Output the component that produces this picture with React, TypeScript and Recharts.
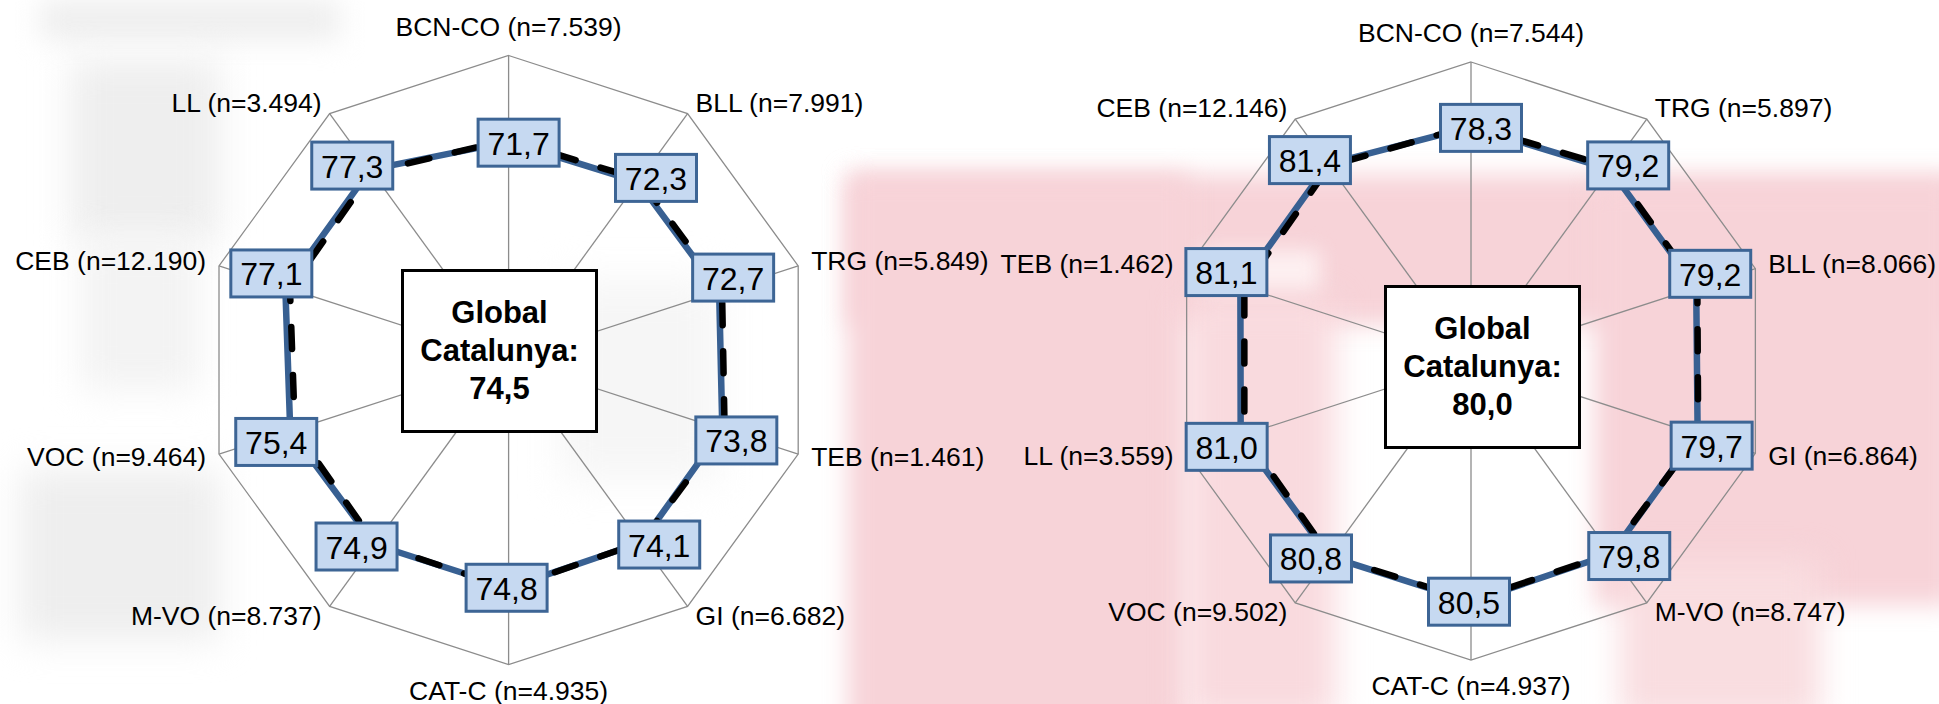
import { RadarChart, Radar, PolarGrid, PolarAngleAxis, PolarRadiusAxis } from "recharts"

// left panel
const leftAxes = [
  "BCN-CO (n=7.539)", "BLL (n=7.991)", "TRG (n=5.849)", "TEB (n=1.461)", "GI (n=6.682)",
  "CAT-C (n=4.935)", "M-VO (n=8.737)", "VOC (n=9.464)", "CEB (n=12.190)", "LL (n=3.494)",
]
const leftValues = [71.7, 72.3, 72.7, 73.8, 74.1, 74.8, 74.9, 75.4, 77.1, 77.3]
const leftDashed = [72.3, 73.3, 73.7, 74.6, 74.0, 75.0, 74.6, 73.8, 75.5, 76.4]
const leftGlobal = "74,5"

// right panel
const rightAxes = [
  "BCN-CO (n=7.544)", "TRG (n=5.897)", "BLL (n=8.066)", "GI (n=6.864)", "M-VO (n=8.747)",
  "CAT-C (n=4.937)", "VOC (n=9.502)", "LL (n=3.559)", "TEB (n=1.462)", "CEB (n=12.146)",
]
const rightValues = [78.3, 79.2, 79.2, 79.7, 79.8, 80.5, 80.8, 81.0, 81.1, 81.4]
const rightDashed = [78.8, 80.0, 79.6, 79.9, 79.5, 80.2, 80.5, 79.7, 79.7, 80.6]
const rightGlobal = "80,0"

const FONT = "'Liberation Sans', Arial, sans-serif"
const LINE_BLUE = "#386092"
const BOX_BORDER = "#3d6595"
const BOX_FILL = "#c6d9f1"
const W = 1939
const H = 704

const fmt = (v: number) => v.toFixed(1).replace(".", ",")

function dirs(index: number) {
  const rad = (index * 36 * Math.PI) / 180
  return { s: Math.sin(rad), c: Math.cos(rad) }
}

function makeTick(cx: number, cy: number, r: number) {
  return (props: any) => {
    const { index, payload } = props
    const { s, c } = dirs(index)
    const vx = cx + r * s
    const vy = cy - r * c
    let x = vx
    let y = vy
    let anchor = "middle"
    if (Math.abs(s) < 0.1) {
      y = vy + (c > 0 ? -29 : 26)
    } else {
      const near = Math.abs(s) > 0.9
      x = vx + Math.sign(s) * (near ? 13 : 8)
      y = vy + (c > 0 ? (near ? -5 : -11) : near ? 3 : 9.5)
      anchor = s > 0 ? "start" : "end"
    }
    return (
      <text key={index} x={x} y={y} textAnchor={anchor} dominantBaseline="central"
        fontFamily={FONT} fontSize={26.5} fill="#000">
        {payload.value}
      </text>
    )
  }
}

// value boxes sit a little outside each point
function boxLabel(props: any) {
  const { cx, cy, index, payload } = props
  if (cx == null || cy == null) return <g key={index} />
  const { s, c } = dirs(index)
  let dx = 0
  let dy = 0
  if (Math.abs(s) < 0.1) {
    dx = c > 0 ? 10 : -2
    dy = c > 0 ? 1 : 0
  } else if (Math.abs(s) > 0.9) {
    dx = Math.sign(s) * 14
    dy = c > 0 ? -14 : 11
  } else {
    dx = Math.sign(s) * 18
    dy = c > 0 ? -4 : 2
  }
  const w = 81
  const h = 47
  const x = cx + dx
  const y = cy + dy
  return (
    <g key={index}>
      <rect x={x - w / 2} y={y - h / 2} width={w} height={h} fill={BOX_FILL} stroke={BOX_BORDER} strokeWidth={3} />
      <text x={x} y={y + 1} textAnchor="middle" dominantBaseline="central" fontFamily={FONT} fontSize={32} fill="#000">
        {fmt(payload.value)}
      </text>
    </g>
  )
}

interface PanelProps {
  axes: string[]
  values: number[]
  dashed: number[]
  global: string
  cx: number
  cy: number
  r: number
  box: { x: number; y: number }
}

function Panel({ axes, values, dashed, global, cx, cy, r, box }: PanelProps) {
  const rows = axes.map((a, i) => ({ axis: a, value: values[i], dashed: dashed[i] }))
  return (
    <>
      <div style={{ position: "absolute", left: 0, top: 0 }}>
        <RadarChart width={W} height={H} data={rows} cx={cx} cy={cy} outerRadius={r}
          margin={{ top: 0, right: 0, bottom: 0, left: 0 }}>
          <PolarGrid gridType="polygon" polarRadius={[r]} stroke="#8c8c8c" strokeWidth={1.3} />
          <PolarAngleAxis dataKey="axis" tick={makeTick(cx, cy, r)} tickLine={false} axisLine={false} />
          <PolarRadiusAxis domain={[0, 100]} tick={false} axisLine={false} angle={90} />
          <Radar dataKey="value" stroke={LINE_BLUE} strokeWidth={6.5} fill="none" fillOpacity={0}
            strokeLinejoin="round" dot={false} isAnimationActive={false} />
          <Radar dataKey="dashed" stroke="#000" strokeWidth={6.5} strokeDasharray="22 26"
            strokeLinecap="round" fill="none" fillOpacity={0} dot={false} isAnimationActive={false} />
          <Radar dataKey="value" stroke="none" fill="none" fillOpacity={0} dot={boxLabel}
            isAnimationActive={false} />
        </RadarChart>
      </div>
      <div style={{
        position: "absolute", left: box.x, top: box.y, width: 197, height: 164,
        boxSizing: "border-box", border: "3px solid #000", background: "#fff",
        display: "flex", flexDirection: "column", alignItems: "center", justifyContent: "center",
        fontFamily: FONT, fontWeight: "bold", fontSize: 31, lineHeight: "38px", color: "#000",
      }}>
        <div>Global</div>
        <div>Catalunya:</div>
        <div>{global}</div>
      </div>
    </>
  )
}

// faint blurred logo behind the charts
const blob = (x: number, y: number, w: number, h: number, color: string, blur = 12) => (
  <div style={{ position: "absolute", left: x, top: y, width: w, height: h, background: color, filter: `blur(${blur}px)` }} />
)

function Watermark() {
  const pink = "#f7d3d8"
  const grey = "#eeeeee"
  return (
    <div style={{ position: "absolute", left: 0, top: 0, width: W, height: H, overflow: "hidden" }}>
      {blob(848, 175, 1120, 150, pink)}
      {blob(848, 175, 340, 560, pink)}
      {blob(1185, 300, 150, 420, "#f9dade", 16)}
      {blob(1595, 185, 360, 420, pink)}
      {blob(1620, 560, 200, 160, "#f9dde0", 16)}
      {blob(1200, 250, 120, 40, "#fdf0f1", 10)}
      {blob(40, 0, 300, 40, grey, 14)}
      {blob(70, 60, 150, 180, grey, 18)}
      {blob(80, 240, 120, 150, "#f3f3f3", 18)}
      {blob(20, 470, 200, 170, grey, 18)}
      {blob(560, 280, 160, 200, "#f6f6f6", 20)}
    </div>
  )
}

export default function App() {
  return (
    <div style={{ position: "absolute", left: 0, top: 0, width: W, height: H, background: "#fff", overflow: "hidden" }}>
      <Watermark />
      <Panel axes={leftAxes} values={leftValues} dashed={leftDashed} global={leftGlobal}
        cx={508.6} cy={360} r={304.5} box={{ x: 401, y: 269 }} />
      <Panel axes={rightAxes} values={rightValues} dashed={rightDashed} global={rightGlobal}
        cx={1471} cy={361} r={299} box={{ x: 1384, y: 285 }} />
    </div>
  )
}
